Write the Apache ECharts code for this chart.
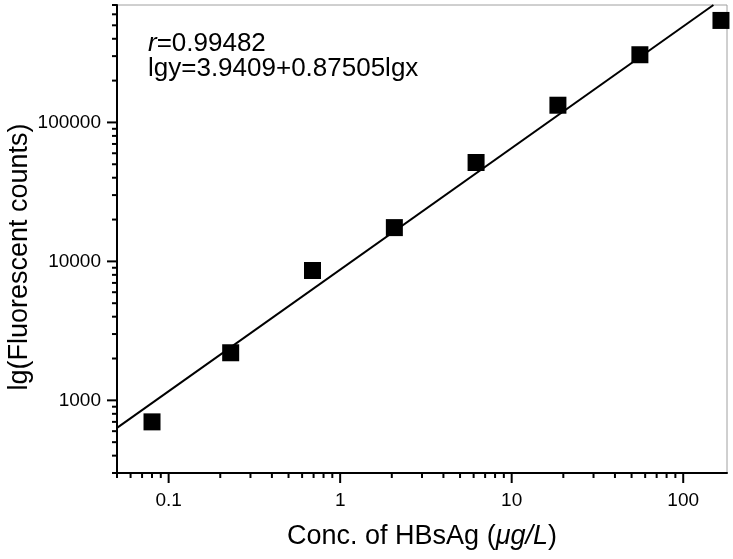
<!DOCTYPE html>
<html>
<head>
<meta charset="utf-8">
<script src="https://cdn.jsdelivr.net/npm/echarts@6/dist/echarts.min.js"></script>
<style>
  html, body { margin: 0; padding: 0; background: #fff; }
  #main { width: 733px; height: 559px; }
</style>
</head>
<body>
<div id="main"></div>
<script>
// data
const concValues = [0.08, 0.23, 0.69, 2.07, 6.2, 18.6, 55.9, 166]
const countValues = [700, 2200, 8600, 17500, 51500, 133000, 307000, 542000]
// ends of the fitted line lgy = 3.9409 + 0.87505 lgx
const fitLine = [[0.05, 634], [150, 700000]]

const xRange = [0.05, 180]
const yRange = [300, 700000]
const xMajorTicks = [0.1, 1, 10, 100]
const xMinorTicks = [0.05, 0.06, 0.07, 0.08, 0.09, 0.2, 0.3, 0.4, 0.5, 0.6, 0.7, 0.8, 0.9,
  2, 3, 4, 5, 6, 7, 8, 9, 20, 30, 40, 50, 60, 70, 80, 90]
const yMajorTicks = [1000, 10000, 100000]
const yMinorTicks = [300, 400, 500, 600, 700, 800, 900, 2000, 3000, 4000, 5000, 6000, 7000, 8000, 9000,
  20000, 30000, 40000, 50000, 60000, 70000, 80000, 90000, 200000, 300000, 400000, 500000, 600000, 700000]

const font = "'Liberation Sans', Arial, sans-serif"

let chartDom = document.getElementById('main')
let myChart = echarts.init(chartDom)

function tickSeries(values, len, isX) {
  return {
    type: 'custom',
    silent: true,
    clip: false,
    data: values.map(v => isX ? [v, yRange[0], len] : [xRange[0], v, len]),
    renderItem: function (params, api) {
      const p = api.coord([api.value(0), api.value(1)])
      const l = api.value(2)
      return {
        type: 'line',
        shape: isX
          ? { x1: p[0], y1: p[1], x2: p[0], y2: p[1] + l }
          : { x1: p[0], y1: p[1], x2: p[0] - l, y2: p[1] },
        style: { stroke: '#000', lineWidth: 2 }
      }
    }
  }
}

let option = {
  animation: false,
  grid: {
    left: 117,
    right: 6,
    top: 5,
    bottom: 86,
    containLabel: false,
    outerBoundsMode: 'none',
    show: true,
    borderColor: '#a0a0a0',
    borderWidth: 1
  },
  graphic: [
    {
      type: 'text',
      left: 148,
      top: 31,
      style: {
        text: '{i|r}=0.99482',
        fontSize: 26,
        fontFamily: font,
        fill: '#000',
        rich: { i: { fontStyle: 'italic', fontSize: 26, fontFamily: font } }
      }
    },
    {
      type: 'text',
      left: 148,
      top: 56,
      style: {
        text: 'lgy=3.9409+0.87505lgx',
        fontSize: 26,
        fontFamily: font,
        fill: '#000'
      }
    }
  ],
  xAxis: {
    type: 'log',
    logBase: 10,
    min: xRange[0],
    max: xRange[1],
    name: 'Conc. of HBsAg ({i|μg/L})',
    nameLocation: 'middle',
    nameGap: 50,
    nameMoveOverlap: false,
    nameTextStyle: {
      fontSize: 27,
      fontFamily: font,
      color: '#000',
      rich: { i: { fontStyle: 'italic', fontSize: 27, fontFamily: font, color: '#000' } }
    },
    axisLine: { lineStyle: { color: '#000', width: 2 } },
    axisTick: { show: false },
    splitLine: { show: false },
    axisLabel: {
      margin: 18,
      fontSize: 19,
      fontFamily: font,
      color: '#000',
      showMinLabel: false,
      showMaxLabel: false,
      formatter: v => String(+(+v).toPrecision(6))
    }
  },
  yAxis: {
    type: 'log',
    logBase: 10,
    min: yRange[0],
    max: yRange[1],
    name: 'lg(Fluorescent counts)',
    nameLocation: 'middle',
    nameGap: 84,
    nameMoveOverlap: false,
    nameTextStyle: {
      fontSize: 27,
      fontFamily: font,
      color: '#000',
      padding: [0, 36, 0, 0]
    },
    axisLine: { lineStyle: { color: '#000', width: 2 } },
    axisTick: { show: false },
    splitLine: { show: false },
    axisLabel: {
      margin: 16,
      fontSize: 19,
      fontFamily: font,
      color: '#000',
      showMinLabel: false,
      showMaxLabel: false,
      formatter: v => String(+(+v).toPrecision(6))
    }
  },
  series: [
    tickSeries(xMajorTicks, 10, true),
    tickSeries(xMinorTicks, 5, true),
    tickSeries(yMajorTicks, 10, false),
    tickSeries(yMinorTicks, 5, false),
    {
      type: 'line',
      data: fitLine,
      symbol: 'none',
      lineStyle: { color: '#000', width: 2 },
      silent: true
    },
    {
      type: 'scatter',
      data: concValues.map((c, i) => [c, countValues[i]]),
      symbol: 'rect',
      symbolSize: 17,
      itemStyle: { color: '#000', opacity: 1 },
      clip: true
    }
  ]
}

option && myChart.setOption(option)
</script>
</body>
</html>
